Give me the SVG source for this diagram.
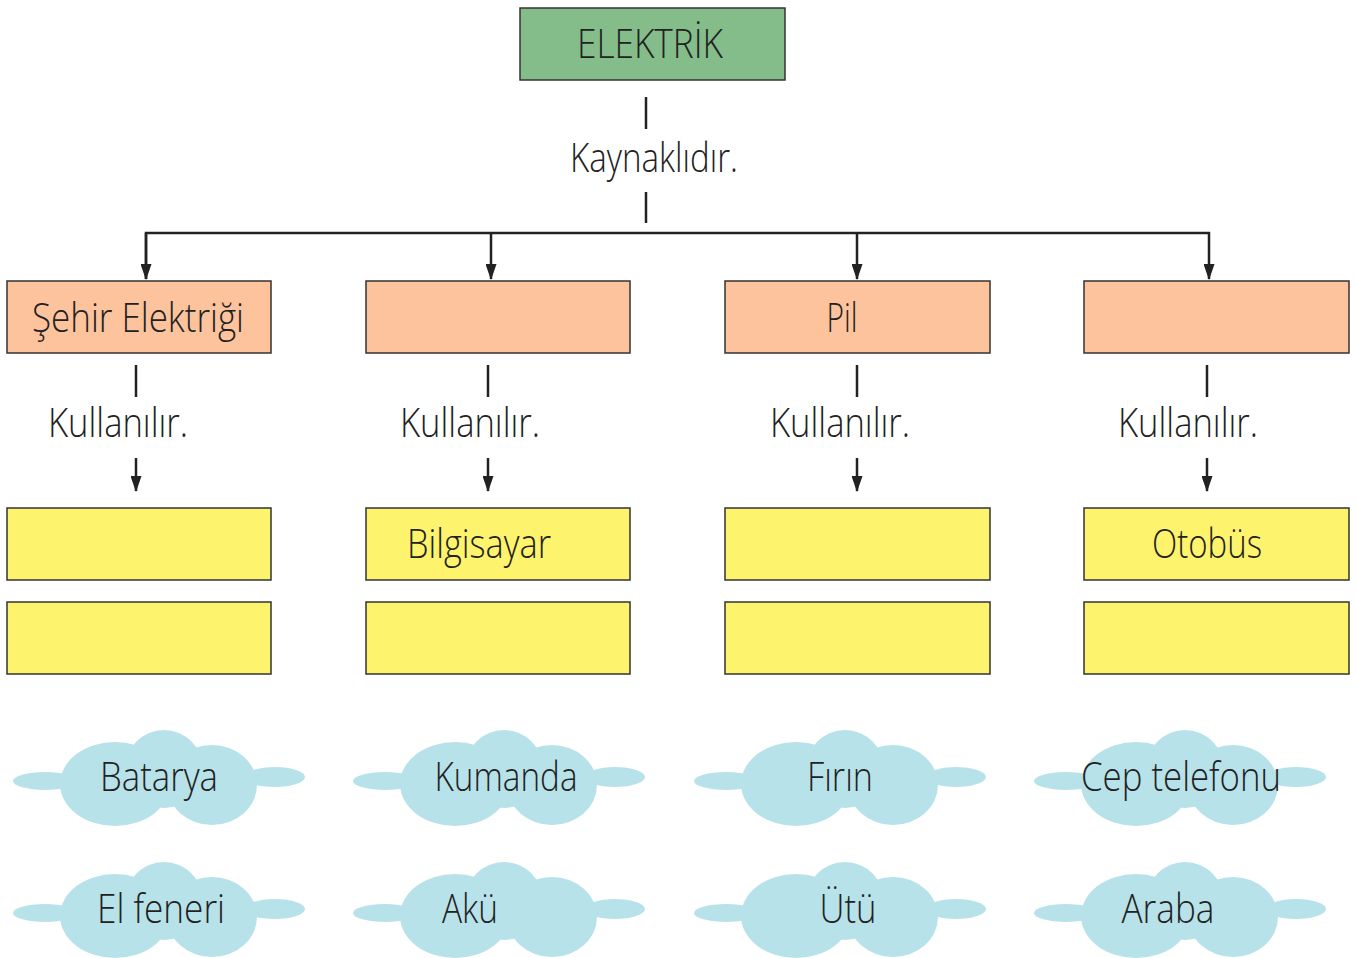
<svg xmlns="http://www.w3.org/2000/svg" xmlns:xlink="http://www.w3.org/1999/xlink" width="1357" height="958" viewBox="0 0 1357 958">
<style>
.box{stroke:#333;stroke-width:1.5}
.g{fill:#84bd89}.o{fill:#fdc39d}.y{fill:#fef36c}
.t{font-family:"Open Sans","Liberation Sans",sans-serif;font-weight:300;font-size:40px;fill:#222;text-anchor:middle}
.ln{stroke:#222;stroke-width:2.5;fill:none}
.cl{fill:#b8e2e9}
</style>
<defs>
<marker id="ah" markerUnits="userSpaceOnUse" markerWidth="16" markerHeight="11" refX="15" refY="5.5" orient="auto" viewBox="0 0 16 11">
<path d="M0,0 L16,5.5 L0,11 z" fill="#222"/>
</marker>
<g id="cloud" class="cl">
<ellipse cx="32" cy="51" rx="32" ry="9"/>
<ellipse cx="262" cy="47" rx="30" ry="10"/>
<ellipse cx="102" cy="54" rx="55" ry="42"/>
<circle cx="151" cy="39" r="39"/>
<ellipse cx="199" cy="55" rx="45" ry="40"/>
</g>
</defs>
<rect width="1357" height="958" fill="#fff"/>
<g id="connectors">
<line class="ln" x1="646" y1="97" x2="646" y2="129"/>
<line class="ln" x1="646" y1="192" x2="646" y2="223"/>
<polyline class="ln" points="146,279 146,233 1209,233 1209,279" marker-start="url(#ah)" marker-end="url(#ah)" style="marker-start:none"/>
<line class="ln" x1="146" y1="233" x2="146" y2="279" marker-end="url(#ah)"/>
<line class="ln" x1="491" y1="233" x2="491" y2="279" marker-end="url(#ah)"/>
<line class="ln" x1="857" y1="233" x2="857" y2="279" marker-end="url(#ah)"/>
<line class="ln" x1="136" y1="365" x2="136" y2="397"/>
<line class="ln" x1="488" y1="365" x2="488" y2="397"/>
<line class="ln" x1="857" y1="365" x2="857" y2="397"/>
<line class="ln" x1="1207" y1="365" x2="1207" y2="397"/>
<line class="ln" x1="136" y1="458" x2="136" y2="491" marker-end="url(#ah)"/>
<line class="ln" x1="488" y1="458" x2="488" y2="491" marker-end="url(#ah)"/>
<line class="ln" x1="857" y1="458" x2="857" y2="491" marker-end="url(#ah)"/>
<line class="ln" x1="1207" y1="458" x2="1207" y2="491" marker-end="url(#ah)"/>
</g>
<g id="elektrik"><rect class="box g" x="520" y="8" width="265" height="72"/><text class="t" x="650" y="58" textLength="146" lengthAdjust="spacingAndGlyphs">ELEKTRİK</text></g>
<g id="kaynaklidir"><text class="t" x="654" y="172" textLength="168" lengthAdjust="spacingAndGlyphs">Kaynaklıdır.</text></g>
<g id="sehir"><rect class="box o" x="7" y="281" width="264" height="72"/><text class="t" x="138" y="332" textLength="212" lengthAdjust="spacingAndGlyphs">Şehir Elektriği</text></g>
<g id="kaynak2"><rect class="box o" x="366" y="281" width="264" height="72"/></g>
<g id="pil"><rect class="box o" x="725" y="281" width="265" height="72"/><text class="t" x="842" y="332" textLength="31" lengthAdjust="spacingAndGlyphs">Pil</text></g>
<g id="kaynak4"><rect class="box o" x="1084" y="281" width="265" height="72"/></g>
<g id="kul1"><text class="t" x="118" y="437" textLength="140" lengthAdjust="spacingAndGlyphs">Kullanılır.</text></g>
<g id="kul2"><text class="t" x="470" y="437" textLength="140" lengthAdjust="spacingAndGlyphs">Kullanılır.</text></g>
<g id="kul3"><text class="t" x="840" y="437" textLength="140" lengthAdjust="spacingAndGlyphs">Kullanılır.</text></g>
<g id="kul4"><text class="t" x="1188" y="437" textLength="140" lengthAdjust="spacingAndGlyphs">Kullanılır.</text></g>
<g id="y1a"><rect class="box y" x="7" y="508" width="264" height="72"/></g>
<g id="y2a"><rect class="box y" x="366" y="508" width="264" height="72"/><text class="t" x="479" y="558" textLength="144" lengthAdjust="spacingAndGlyphs">Bilgisayar</text></g>
<g id="y3a"><rect class="box y" x="725" y="508" width="265" height="72"/></g>
<g id="y4a"><rect class="box y" x="1084" y="508" width="265" height="72"/><text class="t" x="1207" y="558" textLength="110" lengthAdjust="spacingAndGlyphs">Otobüs</text></g>
<g id="y1b"><rect class="box y" x="7" y="602" width="264" height="72"/></g>
<g id="y2b"><rect class="box y" x="366" y="602" width="264" height="72"/></g>
<g id="y3b"><rect class="box y" x="725" y="602" width="265" height="72"/></g>
<g id="y4b"><rect class="box y" x="1084" y="602" width="265" height="72"/></g>
<g id="c-batarya"><use xlink:href="#cloud" href="#cloud" x="13" y="730"/><text class="t" x="159" y="791" textLength="118" lengthAdjust="spacingAndGlyphs">Batarya</text></g>
<g id="c-kumanda"><use xlink:href="#cloud" href="#cloud" x="353" y="730"/><text class="t" x="506" y="791" textLength="143" lengthAdjust="spacingAndGlyphs">Kumanda</text></g>
<g id="c-firin"><use xlink:href="#cloud" href="#cloud" x="694" y="730"/><text class="t" x="840" y="791" textLength="66" lengthAdjust="spacingAndGlyphs">Fırın</text></g>
<g id="c-cep"><use xlink:href="#cloud" href="#cloud" x="1034" y="730"/><text class="t" x="1181" y="791" textLength="200" lengthAdjust="spacingAndGlyphs">Cep telefonu</text></g>
<g id="c-elfeneri"><use xlink:href="#cloud" href="#cloud" x="13" y="862"/><text class="t" x="161" y="923" textLength="128" lengthAdjust="spacingAndGlyphs">El feneri</text></g>
<g id="c-aku"><use xlink:href="#cloud" href="#cloud" x="353" y="862"/><text class="t" x="470" y="923" textLength="56" lengthAdjust="spacingAndGlyphs">Akü</text></g>
<g id="c-utu"><use xlink:href="#cloud" href="#cloud" x="694" y="862"/><text class="t" x="848" y="923" textLength="57" lengthAdjust="spacingAndGlyphs">Ütü</text></g>
<g id="c-araba"><use xlink:href="#cloud" href="#cloud" x="1034" y="862"/><text class="t" x="1168" y="923" textLength="93" lengthAdjust="spacingAndGlyphs">Araba</text></g>
</svg>
